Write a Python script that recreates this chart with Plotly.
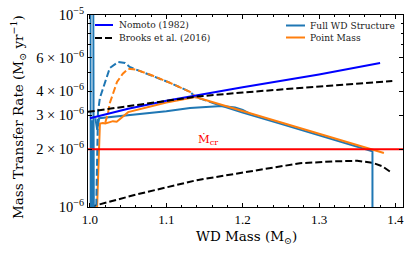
import numpy as np
import plotly.graph_objects as go

# ---------------- data ----------------
# Nomoto (1982) upper stable-burning limit
nomoto_m = [1.0, 1.05, 1.1, 1.14, 1.2, 1.3, 1.38]
nomoto_rate = [2.9e-6, 3.25e-6, 3.58e-6, 3.82e-6, 4.2e-6, 4.9e-6, 5.62e-6]

# Brooks et al. (2016) upper and lower limits
brooks_up_m = [0.997, 1.05, 1.1, 1.14, 1.2, 1.3, 1.396]
brooks_up_rate = [3.13e-6, 3.35e-6, 3.56e-6, 3.76e-6, 3.95e-6, 4.25e-6, 4.53e-6]
brooks_lo_m = [1.0, 1.06, 1.14, 1.23, 1.275, 1.32, 1.35, 1.37, 1.383, 1.395]
brooks_lo_rate = [1.0e-6, 1.16e-6, 1.38e-6, 1.58e-6, 1.69e-6, 1.73e-6, 1.74e-6, 1.70e-6, 1.63e-6, 1.51e-6]

# critical rate
mcr_rate = 2.0e-6
mcr_m = [0.99, 1.42]

# Full WD structure
full_spikes_m = [1.0008, 1.0008, 1.0020, 1.0020, 1.0032, 1.0032, 1.0044, 1.0044, 1.0052, 1.0052]
full_spikes_rate = [1.3e-5, 0.8e-6, 0.8e-6, 2.8e-6, 2.8e-6, 0.8e-6, 0.8e-6, 1.3e-5, 1.3e-5, 0.8e-6]
full_dash_m = [1.008, 1.0105, 1.013, 1.0196, 1.026, 1.037, 1.046, 1.052, 1.078, 1.105, 1.131, 1.138, 1.164]
full_dash_rate = [0.9e-6, 3.13e-6, 3.70e-6, 4.48e-6, 5.30e-6, 5.69e-6, 5.63e-6, 5.36e-6, 4.87e-6,
                  4.43e-6, 3.98e-6, 3.74e-6, 3.45e-6]
full_upper_m = [1.164, 1.2, 1.25, 1.3, 1.35, 1.37, 1.37]
full_upper_rate = [3.45e-6, 3.10e-6, 2.71e-6, 2.37e-6, 2.07e-6, 1.95e-6, 0.8e-6]
full_lower_m = [1.007, 1.0095, 1.012, 1.02, 1.0525, 1.1, 1.131, 1.157, 1.173, 1.19, 1.2, 1.21]
full_lower_rate = [2.9e-6, 2.52e-6, 2.9e-6, 2.92e-6, 3.0e-6, 3.15e-6, 3.28e-6, 3.32e-6, 3.36e-6,
                   3.3e-6, 3.2e-6, 3.05e-6]

# Point mass
point_lower_m = [1.0085, 1.0105, 1.012, 1.013, 1.017, 1.02, 1.025, 1.03, 1.035, 1.04, 1.045,
                 1.05, 1.1, 1.138]
point_lower_rate = [0.8e-6, 1.6e-6, 2.4e-6, 2.72e-6, 2.74e-6, 2.72e-6, 2.76e-6, 2.8e-6, 2.78e-6,
                    2.9e-6, 3.0e-6, 3.12e-6, 3.5e-6, 3.74e-6]
point_dash_m = [1.02, 1.0236, 1.026, 1.030, 1.0354, 1.043, 1.05, 1.06, 1.08, 1.105, 1.131, 1.138]
point_dash_rate = [2.75e-6, 3.09e-6, 3.48e-6, 3.92e-6, 4.48e-6, 4.95e-6, 5.25e-6, 5.2e-6, 4.87e-6,
                   4.43e-6, 3.98e-6, 3.74e-6]
point_upper_m = [1.138, 1.2, 1.25, 1.3, 1.35, 1.385]
point_upper_rate = [3.74e-6, 3.16e-6, 2.75e-6, 2.40e-6, 2.10e-6, 1.91e-6]

# axis ticks
x_ticks = [1.0, 1.1, 1.2, 1.3, 1.4]
x_ticklabels = ["1.0", "1.1", "1.2", "1.3", "1.4"]
y_ticks = [1e-6, 2e-6, 3e-6, 4e-6, 6e-6, 1e-5]
y_ticklabels = ["10<sup>−6</sup>", "2 × 10<sup>−6</sup>", "3 × 10<sup>−6</sup>",
                "4 × 10<sup>−6</sup>", "6 × 10<sup>−6</sup>", "10<sup>−5</sup>"]
y_minor = [5e-6, 7e-6, 8e-6, 9e-6]

# legend entries and titles
legend1_labels = ["Nomoto (1982)", "Brooks et al. (2016)"]
legend2_labels = ["Full WD Structure", "Point Mass"]
x_title = "WD Mass (M<sub>⊙</sub>)"
y_title = "Mass Transfer Rate (M<sub>⊙</sub> yr<sup>−1</sup>)"
mcr_label = "\u1E40<sub>cr</sub>"

# ---------------- styles ----------------
BLUE = "#1f77b4"
ORANGE = "#ff7f0e"
NOMOTO = "#0000ff"
FONT = "Liberation Serif"
TFONT = "DejaVu Serif"
LW = 2
DASH = "7px,3px"

fig = go.Figure()

def add(x, y, color, dash="solid", width=LW):
    fig.add_trace(go.Scatter(x=x, y=y, mode="lines", showlegend=False, hoverinfo="skip",
                             line=dict(color=color, width=width, dash=dash)))

add(brooks_lo_m, brooks_lo_rate, "black", DASH)
add(full_spikes_m, full_spikes_rate, BLUE, width=1.8)
add(full_lower_m, full_lower_rate, BLUE)
add(point_lower_m, point_lower_rate, ORANGE)
add(full_dash_m, full_dash_rate, BLUE, DASH)
add(point_dash_m, point_dash_rate, ORANGE, DASH)
add(full_upper_m, full_upper_rate, BLUE)
add(point_upper_m, point_upper_rate, ORANGE)
add(nomoto_m, nomoto_rate, NOMOTO)
add(brooks_up_m, brooks_up_rate, "black", DASH)
add(mcr_m, [mcr_rate, mcr_rate], "#ff0000")

# M_cr label
fig.add_annotation(x=1.154, y=np.log10(mcr_rate), xref="x", yref="y",
                   text=mcr_label, showarrow=False, yanchor="bottom", yshift=0,
                   font=dict(family=TFONT, size=11.5, color="#ff0000"))

# geometry of the plot area in pixels
PL, PT, PW, PH = 88, 15, 315, 192
def px2paper(px, py):
    return (px - PL) / PW, (PT + PH - py) / PH

# axis titles
tx, ty = px2paper(18, 117)
fig.add_annotation(x=tx, y=ty, xref="paper", yref="paper", text=y_title, textangle=-90,
                   showarrow=False, xanchor="center", yanchor="middle",
                   font=dict(family=TFONT, size=13.5, color="black"))
tx, ty = px2paper(246, 237)
fig.add_annotation(x=tx, y=ty, xref="paper", yref="paper", text=x_title,
                   showarrow=False, xanchor="center", yanchor="middle",
                   font=dict(family=TFONT, size=13.5, color="black"))

# manual legends (paper coordinates)
def legend_entry(x0px, x1px, ypx, color, dash, label, tpx):
    a, b = px2paper(x0px, ypx)
    c, _ = px2paper(x1px, ypx)
    fig.add_shape(type="line", xref="paper", yref="paper", x0=a, x1=c, y0=b, y1=b,
                  line=dict(color=color, width=LW, dash=dash))
    t, _ = px2paper(tpx, ypx)
    fig.add_annotation(x=t, y=b, xref="paper", yref="paper", text=label, showarrow=False,
                       xanchor="left", yanchor="middle", xshift=-2,
                       font=dict(family=TFONT, size=9.1, color="#222"))

legend_entry(95, 113, 25, NOMOTO, "solid", legend1_labels[0], 119)
legend_entry(95, 113, 38, "black", DASH, legend1_labels[1], 119)
legend_entry(286, 305, 25.5, BLUE, "solid", legend2_labels[0], 310)
legend_entry(286, 305, 37.5, ORANGE, "solid", legend2_labels[1], 310)

fig.update_layout(
    width=415, height=255,
    margin=dict(l=PL, r=415 - PL - PW, t=PT, b=255 - PT - PH),
    paper_bgcolor="white", plot_bgcolor="white",
    font=dict(family=FONT, size=12, color="black"),
)
fig.update_xaxes(
    range=[0.9974, 1.41], tickvals=x_ticks, ticktext=x_ticklabels, automargin=False,
    showline=True, linecolor="black", linewidth=1, mirror="allticks",
    ticks="inside", ticklen=4, tickcolor="black", showgrid=False, zeroline=False,
    minor=dict(ticks="inside", dtick=0.02, tick0=1.0, ticklen=2, tickcolor="black", showgrid=False),
    tickfont=dict(family=FONT, size=13),
)
fig.update_yaxes(
    type="log", range=[-6, -5], tickvals=y_ticks, ticktext=y_ticklabels, automargin=False,
    showline=True, linecolor="black", linewidth=1, mirror="allticks",
    ticks="inside", ticklen=4, tickcolor="black", showgrid=False, zeroline=False,
    minor=dict(ticks="inside", tickvals=y_minor, ticklen=2.5, tickcolor="black", showgrid=False),
    tickfont=dict(family=FONT, size=14.5),
)

fig.write_html("out.html", config={"displayModeBar": False},
               post_script="document.body.style.margin='0px';")
